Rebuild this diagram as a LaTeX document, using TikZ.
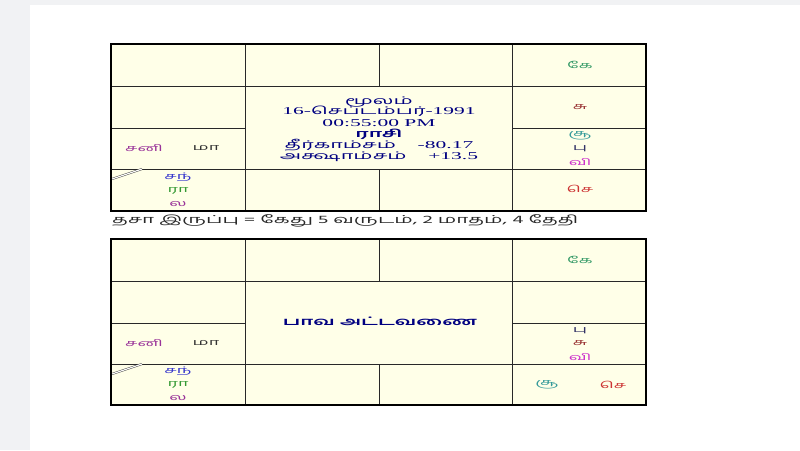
\documentclass[tikz,border=0pt]{standalone}
\usepackage{fontspec}
\usepackage{graphicx}
\setmainfont{Liberation Serif}
\newfontfamily\ta[Script=Tamil]{Hind Madurai}
\newcommand\sx[1]{\scalebox{2.0}[1]{#1}}
\newcommand\sxc[1]{\scalebox{2.05}[1]{#1}}
\definecolor{pagebg}{RGB}{241,242,244}
\definecolor{cream}{RGB}{255,255,232}
\definecolor{csani}{RGB}{153,51,153}
\definecolor{cma}{RGB}{51,51,51}
\definecolor{csant}{RGB}{51,51,204}
\definecolor{cra}{RGB}{51,153,51}
\definecolor{cla}{RGB}{153,51,153}
\definecolor{cke}{RGB}{51,153,102}
\definecolor{csu}{RGB}{153,51,51}
\definecolor{csoo}{RGB}{51,153,153}
\definecolor{cpu}{RGB}{51,51,102}
\definecolor{cvi}{RGB}{204,51,204}
\definecolor{cse}{RGB}{204,51,51}
\definecolor{navy}{RGB}{0,0,128}
\definecolor{dgray}{RGB}{40,40,40}
\tikzset{
  lbl/.style={inner sep=0pt, font=\ta\fontsize{9}{10}\selectfont},
  ctr/.style={inner sep=0pt, text=navy, text height=7pt, text depth=1.5pt, font=\fontsize{10.5}{11}\selectfont},
  inner/.style={line width=0.8pt, draw=dgray},
  outer/.style={line width=1.6pt, draw=black},
  dbl/.style={double, double distance=1.2pt, line width=0.4pt, draw=dgray},
}
\begin{document}
\begin{tikzpicture}[x=1pt,y=-1pt]
\useasboundingbox (0,0) rectangle (800,450);
\fill[pagebg] (0,0) rectangle (800,450);
\fill[white] (30,5) rectangle (800,450);
% ---------- top chart ----------
\fill[cream] (111,44) rectangle (646,211);
\draw[inner] (111,86) -- (646,86);
\draw[inner] (111,128) -- (245,128);
\draw[inner] (512,128) -- (646,128);
\draw[inner] (111,169) -- (646,169);
\draw[inner] (245,44) -- (245,211);
\draw[inner] (512,44) -- (512,211);
\draw[inner] (379,44) -- (379,86);
\draw[inner] (379,169) -- (379,211);
\draw[dbl] (112,179) -- (142,169);
\draw[outer] (111,44) rectangle (646,211);
% left cells
\node[lbl, text=csani] (tsani) at (144,148) {\sx{சனி}};
\node[lbl, text=cma] (tma) at (206,148) {\sx{மா}};
\node[lbl, text=csant] (tsant) at (178,177) {\sx{சந்}};
\node[lbl, text=cra] (tra) at (178,191) {\sx{ரா}};
\node[lbl, text=cla] (tla) at (178,204) {\sx{ல}};
% right cells
\node[lbl, text=cke] (tke) at (580,65) {\sx{கே}};
\node[lbl, text=csu] (tsu) at (580,107) {\sx{சு}};
\node[lbl, text=csoo] (tsoo) at (580,136) {\sx{சூ}};
\node[lbl, text=cpu] (tpu) at (580,149) {\sx{பு}};
\node[lbl, text=cvi] (tvi) at (580,162) {\sx{வி}};
\node[lbl, text=cse] (tse) at (580,189) {\sx{செ}};
% centre
\node[ctr] (c1) at (379,101.5) {\sxc{\ta மூலம்}};
\node[ctr] (c2) at (379,111.5) {\sxc{16-{\ta செப்டம்பர்}-1991}};
\node[ctr] (c3) at (379,123.3) {\sxc{00:55:00 PM}};
\node[ctr] (c4) at (379,134.3) {\sxc{\ta\bfseries ராசி}};
\node[ctr] (c5) at (379,146) {\sxc{{\ta தீர்காம்சம்}\quad -80.17}};
\node[ctr] (c6) at (379,157) {\sxc{{\ta அக்ஷாம்சம்}\quad +13.5}};
% dasa line
\node[inner sep=0pt, anchor=west, text=dgray, font=\ta\fontsize{11}{12}\selectfont] (dasa) at (112,221) {\scalebox{1.88}[1]{தசா இருப்பு = கேது 5 வருடம், 2 மாதம், 4 தேதி}};
% ---------- bottom chart ----------
\fill[cream] (111,239) rectangle (646,405);
\draw[inner] (111,281) -- (646,281);
\draw[inner] (111,323) -- (245,323);
\draw[inner] (512,323) -- (646,323);
\draw[inner] (111,364) -- (646,364);
\draw[inner] (245,239) -- (245,405);
\draw[inner] (512,239) -- (512,405);
\draw[inner] (379,239) -- (379,281);
\draw[inner] (379,364) -- (379,405);
\draw[dbl] (112,374) -- (142,364);
\draw[outer] (111,239) rectangle (646,405);
\node[lbl, text=csani] (bsani) at (144,343) {\sx{சனி}};
\node[lbl, text=cma] (bma) at (206,343) {\sx{மா}};
\node[lbl, text=csant] (bsant) at (178,371) {\sx{சந்}};
\node[lbl, text=cra] (bra) at (178,385) {\sx{ரா}};
\node[lbl, text=cla] (bla) at (178,398) {\sx{ல}};
\node[lbl, text=cke] (bke) at (580,260) {\sx{கே}};
\node[lbl, text=cpu] (bpu) at (580,331) {\sx{பு}};
\node[lbl, text=csu] (bsu) at (580,343) {\sx{சு}};
\node[lbl, text=cvi] (bvi) at (580,357) {\sx{வி}};
\node[lbl, text=csoo] (bsoo) at (547,385) {\sx{சூ}};
\node[lbl, text=cse] (bse) at (613,385) {\sx{செ}};
\node[ctr, font=\ta\bfseries\fontsize{11}{12}\selectfont] (bhava) at (380,323) {\scalebox{1.9}[1]{பாவ அட்டவணை}};
\end{tikzpicture}
\end{document}
